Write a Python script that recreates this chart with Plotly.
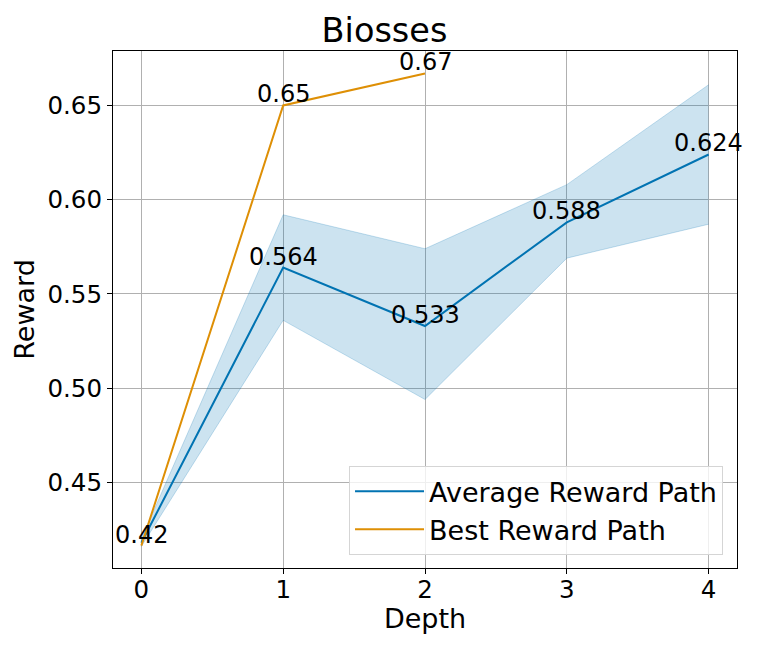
import plotly.graph_objects as go

# values
depth = [0, 1, 2, 3, 4]
avg_reward = [0.418, 0.564, 0.533, 0.588, 0.624]
avg_upper = [0.420, 0.592, 0.574, 0.608, 0.661]
avg_lower = [0.416, 0.536, 0.494, 0.569, 0.587]

best_depth = [0, 1, 2]
best_reward = [0.4165, 0.650, 0.667]

y_ticks = [0.45, 0.50, 0.55, 0.60, 0.65]

BLUE = "#0173B2"
ORANGE = "#DE8F05"
FONT = "DejaVu Sans"

fig = go.Figure()

# shaded band around average path
fig.add_trace(go.Scatter(
    x=depth, y=avg_upper, mode="lines",
    line=dict(color="rgba(1,115,178,0.22)", width=1),
    showlegend=False, hoverinfo="skip",
))
fig.add_trace(go.Scatter(
    x=depth, y=avg_lower, mode="lines",
    line=dict(color="rgba(1,115,178,0.22)", width=1),
    fill="tonexty", fillcolor="rgba(1,115,178,0.2)",
    showlegend=False, hoverinfo="skip",
))

fig.add_trace(go.Scatter(
    x=depth, y=avg_reward, mode="lines", name="Average Reward Path",
    line=dict(color=BLUE, width=2),
))
fig.add_trace(go.Scatter(
    x=best_depth, y=best_reward, mode="lines", name="Best Reward Path",
    line=dict(color=ORANGE, width=2),
))

# value labels
annotations = []
for x, y in zip(depth[1:], avg_reward[1:]):
    annotations.append(dict(x=x, y=y, text=f"{round(y, 3)}"))
for x, y in zip(best_depth, best_reward):
    annotations.append(dict(x=x, y=y, text=f"{round(y, 2)}"))
for a in annotations:
    a.update(xref="x", yref="y", showarrow=False, xanchor="center",
             yanchor="bottom", yshift=-5,
             font=dict(family=FONT, size=24, color="black"))

axis_common = dict(
    showgrid=True, gridcolor="#b0b0b0", gridwidth=1,
    showline=True, linecolor="black", linewidth=1.2, mirror=True,
    ticks="outside", ticklen=5, tickwidth=1.2, tickcolor="black",
    tickfont=dict(family=FONT, size=24.5, color="black"),
    zeroline=False,
)

# page body has an 8px margin, so the figure is sized/placed to compensate
fig.update_layout(
    width=753, height=645,
    margin=dict(l=105, r=24, t=43, b=85),
    plot_bgcolor="white", paper_bgcolor="white",
    title=dict(text="Biosses", x=0.5, xanchor="center",
               y=1 - 22 / 645, yref="container", yanchor="middle",
               font=dict(family=FONT, size=33.5, color="black")),
    xaxis=dict(range=[-0.2, 4.2], tickvals=depth, ticklabelstandoff=-6,
               title=dict(text="Depth", standoff=0,
                          font=dict(family=FONT, size=27, color="black")),
               **axis_common),
    yaxis=dict(range=[0.4046, 0.6789], tickvals=y_ticks, tickformat=".2f",
               title=dict(text="Reward", standoff=4,
                          font=dict(family=FONT, size=27, color="black")),
               **axis_common),
    legend=dict(x=0.9776, y=0.025, xanchor="right", yanchor="bottom",
                traceorder="normal",
                bgcolor="rgba(255,255,255,0.8)", bordercolor="#d5d5d5",
                borderwidth=1, font=dict(family=FONT, size=27, color="black"),
                itemwidth=69),
    annotations=annotations,
)

fig.write_html("out.html")
